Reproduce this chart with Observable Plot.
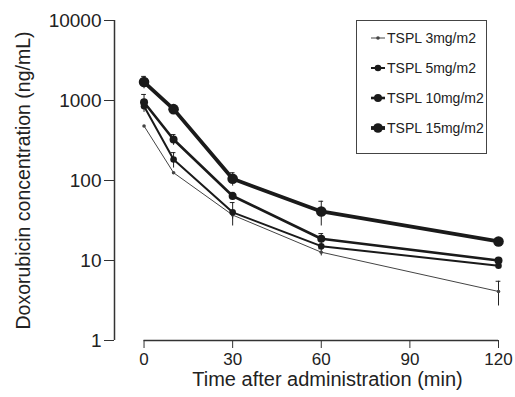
<!DOCTYPE html>
<html>
<head>
<meta charset="utf-8">
<script src="https://cdn.jsdelivr.net/npm/d3@7"></script>
<script src="https://cdn.jsdelivr.net/npm/@observablehq/plot@0.6"></script>
<style>
  html, body { margin: 0; padding: 0; background: #fff; }
  #wrap { position: relative; width: 515px; height: 397px; font-family: "Liberation Sans", Arial, sans-serif; }
  #legend { position: absolute; left: 356px; top: 20px; width: 131px; height: 134px; border: 1.5px solid #444; box-sizing: border-box; padding-top: 2px; }
  .row { display: flex; align-items: center; height: 30px; padding-left: 13px; font-size: 14px; color: #222; }
  .row svg { margin-right: 1px; }
</style>
</head>
<body>
<div id="wrap"><div id="legend"></div></div>
<script>
// ---- data ----
const times = [0, 10, 30, 60, 120];
const seriesNames = ["TSPL 3mg/m2", "TSPL 5mg/m2", "TSPL 10mg/m2", "TSPL 15mg/m2"];
const conc3  = [480, 125, 37, 12.7, 4.1];
const conc5  = [850, 183, 40, 15.1, 8.6];
const conc10 = [950, 325, 64, 18.7, 10];
const conc15 = [1700, 780, 105, 41, 17.3];
const sd3  = [0, 0, 4, 1.3, 1.4];
const sd5  = [0, 40, 13, 0, 0];
const sd10 = [240, 50, 7, 3, 0];
const sd15 = [300, 0, 20, 14, 0];
const yTicks = [1, 10, 100, 1000, 10000];
const xTicks = [0, 30, 60, 90, 120];
const xLabel = "Time after administration (min)";
const yLabel = "Doxorubicin concentration (ng/mL)";

// ---- styles ----
const styles = [
  {stroke: "#444", sw: 1, r: 1.8},
  {stroke: "#1a1a1a", sw: 2, r: 3.3},
  {stroke: "#1a1a1a", sw: 2.6, r: 4},
  {stroke: "#1a1a1a", sw: 3.8, r: 5.3}
];
const concs = [conc3, conc5, conc10, conc15];
const sds = [sd3, sd5, sd10, sd15];

const rows = [];
seriesNames.forEach((s, i) => times.forEach((t, j) => rows.push({s, i, t, v: concs[i][j], sd: sds[i][j]})));
const errRows = rows.filter(d => d.sd > 0);

const xMin = -10;
const marks = [
  Plot.ruleX([xMin], {stroke: "#333", strokeWidth: 1.5}),
  Plot.ruleY([1], {x1: 0, x2: 120, stroke: "#333", strokeWidth: 1.5}),
  Plot.axisY({ticks: yTicks, tickFormat: d => String(d), tickSize: 10, tickPadding: 3, fontSize: 19, label: null, stroke: "#333"}),
  Plot.axisX({ticks: xTicks, tickSize: 8, tickPadding: 4, fontSize: 17, label: null, stroke: "#333"}),
  Plot.text([xLabel], {frameAnchor: "bottom", dx: 21, dy: 45, fontSize: 20, fill: "#222"}),
  Plot.text([yLabel], {frameAnchor: "left", textAnchor: "middle", dx: -91, rotate: -90, fontSize: 19.5, fill: "#222"}),
  Plot.ruleX(errRows, {x: "t", y1: d => Math.max(1, d.v - d.sd), y2: d => d.v + d.sd, stroke: "#222", strokeWidth: 1}),
  Plot.ruleY(errRows, {y: d => d.v + d.sd, x1: d => d.t - 0.8, x2: d => d.t + 0.8, stroke: "#222", strokeWidth: 1})
];
seriesNames.forEach((s, i) => {
  const data = rows.filter(d => d.i === i);
  marks.push(Plot.line(data, {x: "t", y: "v", stroke: styles[i].stroke, strokeWidth: styles[i].sw}));
  marks.push(Plot.dot(data, {x: "t", y: "v", r: styles[i].r, fill: styles[i].stroke, stroke: "none"}));
});

const chart = Plot.plot({
  width: 515, height: 397,
  marginLeft: 114, marginRight: 17, marginTop: 20, marginBottom: 57,
  style: {fontFamily: "Liberation Sans, Arial, sans-serif", color: "#222", background: "#fff"},
  x: {domain: [xMin, 120], axis: null},
  y: {type: "log", domain: [1, 10000], axis: null},
  marks
});
const wrap = document.getElementById("wrap");
wrap.insertBefore(chart, wrap.firstChild);

// legend
const legend = document.getElementById("legend");
seriesNames.forEach((s, i) => {
  const row = document.createElement("div");
  row.className = "row";
  const st = styles[i];
  row.innerHTML = `<svg width="16" height="12"><line x1="1" x2="15" y1="6" y2="6" stroke="${st.stroke}" stroke-width="${st.sw}"/><circle cx="8" cy="6" r="${Math.min(st.r, 4.8)}" fill="${st.stroke}"/></svg><span>${s}</span>`;
  legend.appendChild(row);
});
</script>
</body>
</html>
